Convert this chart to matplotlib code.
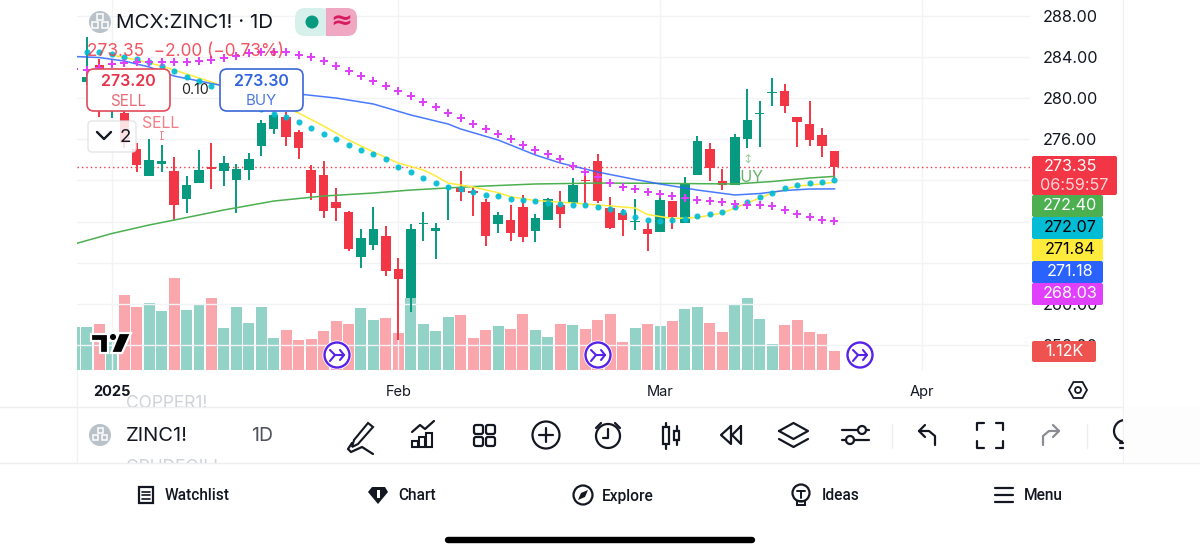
import matplotlib
matplotlib.use("Agg")
import matplotlib.pyplot as plt
from matplotlib.patches import Circle, FancyBboxPatch, Polygon, Rectangle

plt.rcParams['font.family'] = ['Inter', 'DejaVu Sans']

# candles, index 0 = first visible full candle in Jan, -4 starts at left edge
candle_idx = list(range(-4, 57))
opens = [281.58, 283.2, 279.4, 278.56, 275.06, 272.46, 273.6, 272.95, 270.2, 271.75, 273.34, 272.89, 272.05, 273.02, 275.35, 277.01,
         278.2, 276.72, 273.02, 272.53, 269.88, 268.9, 264.53, 265.75, 266.6, 263.36, 260.54, 267.8, 267.08, 269.39, 271.3, 270.95,
         269.91, 267.77, 268.15, 269.42, 267.11, 268.13, 269.58, 269.81, 272.02, 273.87, 269.32, 268.84, 267.96, 267.28, 266.99, 270.03,
         267.86, 272.56, 275.09, 271.98, 271.56, 276.06, 278.5, 280.54, 280.67, 278.2, 277.49, 276.42, 274.87]
highs = [285.96, 283.8, 282.0, 279.3, 275.65, 276.0, 275.45, 274.31, 272.44, 274.96, 275.67, 274.41, 273.6, 274.7, 277.88, 278.66,
         278.66, 276.91, 273.51, 273.92, 271.24, 269.0, 267.28, 269.39, 267.57, 264.49, 267.77, 268.9, 267.83, 271.56, 272.89, 271.39,
         270.17, 268.96, 269.58, 270.62, 268.74, 270.27, 270.98, 272.24, 273.02, 274.58, 270.36, 269.25, 270.2, 267.96, 270.59, 270.03,
         272.31, 276.33, 275.62, 273.09, 276.52, 280.93, 279.73, 281.97, 281.36, 278.2, 279.73, 277.08, 274.87]
lows = [281.3, 278.17, 278.08, 275.16, 272.82, 272.46, 272.85, 268.15, 268.81, 271.75, 271.17, 271.46, 268.81, 272.05, 274.38, 276.52,
        275.38, 274.09, 270.1, 268.38, 268.09, 265.14, 263.46, 265.24, 262.71, 256.48, 259.23, 266.11, 264.33, 268.15, 270.03, 268.57,
        265.6, 266.86, 266.11, 266.04, 266.04, 268.13, 267.38, 269.81, 269.71, 269.78, 267.31, 266.63, 267.15, 265.17, 266.99, 267.31,
        267.86, 272.56, 271.95, 271.07, 271.56, 275.16, 275.23, 279.24, 278.59, 275.29, 275.35, 274.28, 272.21]
closes = [282.07, 280.8, 281.29, 275.65, 273.51, 273.99, 273.92, 269.58, 271.56, 273.05, 273.09, 273.67, 273.12, 274.12, 277.62, 278.37,
          276.26, 275.19, 270.81, 269.06, 269.32, 265.33, 266.37, 267.31, 263.22, 262.42, 267.25, 267.89, 267.38, 269.45, 270.88, 270.81,
          266.6, 268.64, 266.86, 266.53, 268.32, 270.17, 268.71, 271.56, 271.95, 270.03, 267.38, 268.15, 268.09, 266.76, 270.1, 268.42,
          271.78, 275.84, 273.21, 271.53, 276.2, 277.88, 278.59, 280.64, 279.24, 277.69, 275.94, 275.38, 273.35]

vol_idx = list(range(-5, 57))
volumes = [2.53, 2.53, 2.71, 1.65, 4.41, 3.71, 3.94, 3.49, 5.41, 3.53, 3.84, 4.24, 2.47, 3.72, 2.76, 3.72, 1.88, 2.35, 1.78, 1.82, 2.31,
           2.88, 2.72, 3.65, 2.94, 3.06, 2.18, 4.24, 2.71, 2.31, 3.12, 3.24, 1.9, 2.35, 2.59, 2.41, 3.29, 2.35, 1.94, 2.71, 2.65, 2.41,
           2.94, 3.29, 1.65, 2.47, 2.71, 2.61, 2.88, 3.59, 3.71, 2.78, 2.25, 3.88, 4.24, 3.02, 1.53, 2.65, 2.94, 2.24, 2.12, 1.12]
vol_up = [1, 1, 0, 1, 0, 0, 1, 1, 0, 1, 1, 0, 1, 1, 1, 1, 1, 0, 0, 0, 0,
          0, 0, 1, 1, 0, 0, 1, 1, 1, 1, 0, 0, 0, 1, 0, 0, 1, 1, 0, 1, 0,
          0, 0, 0, 1, 0, 1, 0, 1, 1, 0, 0, 1, 1, 1, 1, 0, 0, 0, 0, 0]

# indicators
plus_idx = list(range(-5, 57))
plus_vals = [282.84, 282.75, 282.94, 283.33, 283.38, 283.53, 283.55, 283.55, 283.55, 283.55, 283.62, 283.72, 283.89, 284.11, 284.37, 284.47,
             284.47, 284.47, 284.21, 283.98, 283.62, 283.17, 282.68, 282.16, 281.68, 281.19, 280.7, 280.18, 279.65, 279.12, 278.59, 278.08,
             277.54, 277.01, 276.52, 276.03, 275.45, 274.96, 274.58, 274.06, 273.41, 272.82, 272.34, 271.73, 271.39, 271.14, 270.91, 270.65,
             270.49, 270.25, 270.1, 270.0, 269.88, 269.71, 269.64, 269.58, 269.49, 269.13, 268.74, 268.45, 268.15, 268.03]
dot_idx = list(range(-4, 57))
dot_vals = [284.53, 284.53, 284.3, 284.04, 283.82, 283.48, 283.17, 282.68, 282.1, 281.68, 281.19, 280.65, 280.12, 279.54, 279.0, 278.47,
            278.13, 277.72, 277.08, 276.52, 276.01, 275.45, 274.96, 274.55, 274.06, 273.34, 272.78, 272.27, 271.73, 271.39, 271.14, 270.88,
            270.62, 270.46, 270.2, 270.07, 269.97, 269.84, 269.71, 269.58, 269.58, 269.45, 269.22, 268.93, 268.42, 268.15, 268.06, 268.11,
            268.3, 268.54, 268.77, 268.96, 269.42, 269.93, 270.39, 270.81, 271.27, 271.56, 271.73, 271.88, 272.07]
blue_idx = [-5, -3, -1, 1, 3, 5, 7, 10, 13, 16, 19, 22, 25, 26, 29, 32, 34, 37, 40, 42, 45, 48, 50, 52, 54, 56]
blue_vals = [284.06, 283.96, 283.62, 283.04, 282.16, 281.68, 281.19, 280.8, 280.41, 280.02, 279.44, 278.37, 277.49, 277.01, 275.94, 274.48,
             273.7, 272.82, 272.1, 271.66, 271.07, 270.59, 270.73, 271.02, 271.17, 271.18]
green_idx = [-5, -2, 1, 3, 7, 11, 15, 19, 22, 27, 32, 37, 42, 48, 51, 54, 56]
green_vals = [265.82, 266.84, 267.67, 268.15, 269.13, 270.0, 270.49, 270.78, 271.07, 271.41, 271.66, 271.75, 271.72, 271.66, 271.9, 272.24, 272.4]
yellow_idx = [-2, 0, 2, 4, 6, 9, 12, 13, 15, 17, 19, 21, 23, 24, 25, 27, 29, 30, 32, 35, 38, 40, 41, 43, 45, 47, 49, 51, 53, 55, 56]
yellow_vals = [284.21, 283.72, 283.14, 282.36, 281.58, 280.31, 279.05, 278.56, 277.3, 275.94, 274.77, 273.7, 273.02, 272.44, 271.75, 271.37,
               270.81, 270.42, 270.05, 269.81, 269.52, 269.32, 268.69, 268.3, 268.4, 268.84, 269.81, 270.78, 271.46, 271.66, 271.84]

last_price = 273.35
price_ticks = [256, 260, 264, 268, 272, 276, 280, 284, 288]
# 264, 268 and 272 are fully covered by the price tags
price_labels = ['256.00', '260.00', '', '', '', '276.00', '280.00', '284.00', '288.00']
time_ticks = [-2, 21, 42, 63]
time_labels = ['2025', 'Feb', 'Mar', 'Apr']

GREEN = '#089981'
RED = '#f23645'
TEXT = '#131722'
GRID = '#f2f3f5'

fig = plt.figure(figsize=(12, 5.54), dpi=100)
ax = fig.add_axes([77 / 1200, (554 - 371) / 554, (1030 - 77) / 1200, 371 / 554])

# volume sits behind the candles on its own scale
vax = ax.twinx()
vax.set_ylim(-1 / 17, 370 / 17)
vax.yaxis.set_visible(False)
for s in vax.spines.values():
    s.set_visible(False)
vax.set_zorder(ax.get_zorder() - 1)
vax.bar(vol_idx, volumes, width=0.88, color=[GREEN if u else RED for u in vol_up], alpha=0.44, lw=0)

ax.set_xlim((77 - 136.7) / 12.46, (1030 - 136.7) / 12.46)
ax.set_ylim(288 - 355 / 10.28, 288 + 16 / 10.28)
ax.patch.set_alpha(0)
for s in ax.spines.values():
    s.set_visible(False)
ax.yaxis.tick_right()
ax.set_yticks(price_ticks)
ax.set_yticklabels(price_labels)
ax.set_xticks(time_ticks)
ax.set_xticklabels(time_labels)
ax.get_xticklabels()[0].set_fontweight('bold')
ax.tick_params(axis='y', length=0, pad=9.5, labelsize=11.7, labelcolor=TEXT)
ax.tick_params(axis='x', length=0, pad=10, labelsize=10.5, labelcolor=TEXT)
ax.grid(True, color=GRID, lw=1)
ax.set_axisbelow(True)

ax.axhline(last_price, color=RED, lw=1, ls=(0, (1, 2.2)), zorder=2)
ax.text(49, 272.3, 'BUY', color='#64b268', fontsize=11.5, ha='center', va='center', zorder=1.5)
ax.text(49, 274.1, '↕', color='#64b268', fontsize=5.5, ha='center', va='center', zorder=1.5)

for i, o, h, l, c in zip(candle_idx, opens, highs, lows, closes):
    col = GREEN if c >= o else RED
    ax.vlines(i, l, h, color=col, lw=1.4, zorder=3)
    ax.bar(i, abs(c - o), bottom=min(o, c), width=0.76, color=col, lw=0, zorder=3)

ax.plot(green_idx, green_vals, color='#4caf50', lw=1.1, zorder=4)
ax.plot(yellow_idx, yellow_vals, color='#ffeb3b', lw=1.1, zorder=4)
ax.plot(blue_idx, blue_vals, color='#2962ff', lw=1.1, zorder=4, alpha=0.85)
ax.plot(dot_idx, dot_vals, ls='', marker='o', ms=4.4, color='#00bcd4', mew=0, zorder=5, alpha=0.92)
ax.plot(plus_idx, plus_vals, ls='', marker='P', ms=6.4, color='#e040fb', mew=0, zorder=5)

# everything else is app chrome, drawn in screen pixels on top
ui = fig.add_axes([0, 0, 1, 1], zorder=10)
ui.set_xlim(0, 1200)
ui.set_ylim(554, 0)
ui.axis('off')
ui.patch.set_alpha(0)


def box(x0, y0, x1, y1, fc, ec='none', r=3, lw=1.0, z=2, alpha=None):
    p = FancyBboxPatch((x0, y0), x1 - x0, y1 - y0, boxstyle='round,pad=0,rounding_size=%g' % r,
                       fc=fc, ec=ec, lw=lw, zorder=z, alpha=alpha)
    ui.add_patch(p)
    return p


def label(x, y, s, color=TEXT, size=11, ha='center', weight='normal', z=5, alpha=None, family=None):
    return ui.text(x, y, s, color=color, fontsize=size, ha=ha, va='center', fontweight=weight, zorder=z,
                   alpha=alpha, family=family)


def stroke(xs, ys, color='#131722', lw=1.6, z=5):
    ui.plot(xs, ys, color=color, lw=lw, zorder=z, solid_capstyle='round', solid_joinstyle='round')


def ring(x, y, r, color='#131722', lw=1.6, fc='none', z=5):
    ui.add_patch(Circle((x, y), r, fc=fc, ec=color, lw=lw, zorder=z))


def symbol_badge(x, y, r, sq):
    ring(x, y, r, color='none', fc='#b9c2c9', lw=0, z=4)
    for dx, dy in [(0, -sq * 0.9), (-sq * 0.9, sq * 0.55), (sq * 0.9, sq * 0.55)]:
        ui.add_patch(Rectangle((x + dx - sq / 2, y + dy - sq / 2), sq, sq, fc='none', ec='white', lw=1.1, zorder=5))


# legend row
symbol_badge(100, 22, 11, 5.5)
label(116, 23, 'MCX:ZINC1! · 1D', size=14.8, ha='left')
box(295, 8, 330, 36, '#d8f0ec', r=10)
ui.add_patch(Rectangle((325, 8), 7, 28, fc='#d8f0ec', lw=0, zorder=2))
box(326, 8, 357, 36, '#f0a7c2', r=10)
ui.add_patch(Rectangle((326, 8), 8, 28, fc='#f0a7c2', lw=0, zorder=2))
ring(312, 22, 6.5, color='none', fc=GREEN, lw=0)
label(341, 21, '≈', color='#d81b60', size=19, weight='bold', family=['DejaVu Sans'])
label(87, 51, '273.35  −2.00 (−0.73%)', color=RED, size=12.4, ha='left', alpha=0.85)

# order buttons
box(87, 69, 170, 111, 'white', ec='#e04a5c', r=7, lw=1.2)
label(128, 82, '273.20', color='#e8324a', size=11.5, weight='semibold')
label(128, 101, 'SELL', color='#e96a78', size=11)
box(220, 69, 303, 111, 'white', ec='#3a66d8', r=7, lw=1.2)
label(261, 82, '273.30', color='#3165e0', size=11.5, weight='semibold')
label(261, 101, 'BUY', color='#4c78dc', size=10.8)
label(195, 90, '0.10', size=10.2, color='#222222')
box(88, 121, 136, 152, 'white', ec='#dfe1e5', r=4, lw=1, alpha=0.85)
stroke([97, 104, 111], [132, 139, 132], lw=1.7)
label(125, 137, '2', size=13.5)
label(161, 124, 'SELL', color='#f47c86', size=11.4)
stroke([161, 161], [131, 139], color='#f47c86', lw=0.7)
stroke([159.5, 162.5], [131, 131], color='#f47c86', lw=0.7)
stroke([159.5, 162.5], [139, 139], color='#f47c86', lw=0.7)

# tradingview logo
for pts in [[(91, 334), (108, 334), (108, 353), (100, 353), (100, 341), (91, 341)],
            [(119, 333), (131, 333), (122, 353), (111, 353)]]:
    ui.add_patch(Polygon(pts, closed=True, fc='black', ec='white', lw=1.6, zorder=4))
ring(113, 337, 3.6, color='white', fc='black', lw=0.8, z=4)

# merge markers on the volume pane
for mx in [337, 598, 860]:
    ring(mx, 355, 14.5, color='none', fc='white', lw=0, z=3)
    ring(mx, 355, 12.5, color='#5722e8', lw=1.7, fc='white', z=4)
    stroke([mx - 7, mx - 2, mx + 7], [350, 355, 355], color='#5722e8', lw=1.5)
    stroke([mx - 7, mx - 2], [361, 355], color='#5722e8', lw=1.5)
    stroke([mx + 3, mx + 7, mx + 3], [350, 355, 360], color='#5722e8', lw=1.5)

# price scale tags
tags = [(195, 217, '#4caf50', '272.40', 'white'), (217, 239, '#00bcd4', '272.07', 'black'),
        (239, 261, '#ffeb3b', '271.84', 'black'), (261, 283, '#2962ff', '271.18', 'white'),
        (283, 305, '#e040fb', '268.03', 'white')]
for y0, y1, fc, s, tc in tags:
    box(1032, y0, 1103, y1, fc, r=2, z=2)
    label(1070, (y0 + y1) / 2, s, color=tc, size=11.7)
box(1032, 156, 1117, 195, '#f23645', r=2, z=3)
label(1070, 166.5, '273.35', color='white', size=11.7)
label(1074, 185, '06:59:57', color='#ffd6da', size=11.7)
box(1032, 341, 1096, 362, '#ef5350', r=2, z=3)
label(1064, 352, '1.12K', color='white', size=11.7)

# settings hexagon under the price scale
ui.add_patch(Polygon([(1069, 390), (1073.5, 382), (1082.5, 382), (1087, 390), (1082.5, 398), (1073.5, 398)], closed=True,
                     fc='none', ec='#131722', lw=1.3, zorder=5))
ring(1078, 390, 3, lw=1.3)

# frame lines
stroke([1123, 1123], [0, 463], color='#f0f1f3', lw=1, z=1)
stroke([77, 77], [371, 463], color='#f0f1f3', lw=1, z=1)
stroke([0, 1123], [407, 407], color='#eeeff1', lw=1, z=1)
stroke([0, 1200], [463, 463], color='#eeeff1', lw=1, z=1)

# toolbar
clip_top = Rectangle((0, 395), 1123, 12, transform=ui.transData)
t = label(126, 403, 'COPPER1!', color='#cfd2d6', size=12.5, ha='left')
t.set_clip_on(True)
t.set_clip_path(clip_top)
clip_bot = Rectangle((0, 456), 1123, 7, transform=ui.transData)
t = label(126, 468, 'CRUDEOIL!', color='#cfd2d6', size=12.5, ha='left')
t.set_clip_on(True)
t.set_clip_path(clip_bot)
symbol_badge(100, 435, 11, 5)
label(126, 436, 'ZINC1!', size=14.5, ha='left')
label(251, 436, '1D', size=14, ha='left', color='#50535e')

# pen
ui.add_patch(Polygon([(368, 423), (373, 427), (358, 444), (352, 447), (354, 440)], closed=True, fc='none', ec='#131722', lw=1.5, zorder=5))
stroke([352, 348, 351, 362, 373], [443, 449, 452, 447, 454])
# bars + trend
for bx, by in [(412, 441), (419, 437), (426, 433)]:
    ui.add_patch(Rectangle((bx, by), 6, 447 - by, fc='none', ec='#131722', lw=1.5, zorder=5))
stroke([412, 420, 425, 434], [432, 425, 429, 421])
# templates grid
for gx in [474, 486]:
    for gy in [425, 437]:
        box(gx, gy, gx + 9, gy + 9, 'none', ec='#131722', r=2, lw=1.6, z=5)
# add
ring(546, 435, 13.5)
stroke([539, 553], [435, 435])
stroke([546, 546], [428, 442])
# alarm
ring(608, 436, 12)
stroke([608, 608, 603], [429, 438, 438])
stroke([596, 601], [428, 423])
stroke([620, 615], [428, 423])
# candles
ui.add_patch(Rectangle((663, 427), 6, 17, fc='none', ec='#131722', lw=1.6, zorder=5))
stroke([666, 666], [423, 427])
stroke([666, 666], [444, 449])
ui.add_patch(Rectangle((674, 431), 5, 9, fc='none', ec='#131722', lw=1.6, zorder=5))
stroke([676.5, 676.5], [426, 431])
stroke([676.5, 676.5], [440, 445])
# replay
stroke([731, 721, 731, 731], [426, 435, 444, 426])
stroke([741, 732, 741, 741], [426, 435, 444, 426])
# layers
stroke([779, 793.5, 808, 793.5, 779], [431, 423, 431, 439, 431])
stroke([779, 793.5, 808], [439, 447, 439])
# settings sliders
stroke([842, 858], [430, 430])
stroke([866, 869], [430, 430])
ring(862, 430, 4)
stroke([842, 846], [440, 440])
stroke([854, 869], [440, 440])
ring(850, 440, 4)
stroke([892, 892], [424, 448], color='#eceef0', lw=1)
# undo / redo
stroke([925, 919, 925], [425, 431, 437])
stroke([919, 929, 935, 935], [431, 431, 436, 445])
stroke([1053, 1059, 1053], [425, 431, 437], color='#8a8d93')
stroke([1059, 1049, 1043, 1043], [431, 431, 436, 445], color='#8a8d93')
# fullscreen brackets
stroke([977, 977, 984], [430, 423, 423])
stroke([996, 1003, 1003], [423, 423, 430])
stroke([1003, 1003, 996], [441, 448, 448])
stroke([984, 977, 977], [448, 448, 441])
stroke([1087, 1087], [424, 448], color='#eceef0', lw=1)
# bulb runs off the panel
bulb = Rectangle((1105, 415), 18, 40, transform=ui.transData)
b = Circle((1125, 431), 11, fc='none', ec='#131722', lw=1.6, zorder=5)
ui.add_patch(b)
b.set_clip_path(bulb)
stroke([1120, 1123], [443, 443])
stroke([1120, 1123], [448, 448])
ui.add_patch(Rectangle((1124, 407), 76, 56, fc='#fdfdfd', lw=0, zorder=6))

# bottom nav
nav_font = ['Roboto', 'DejaVu Sans']
nav = [(165, 'Watchlist'), (398, 'Chart'), (602, 'Explore'), (822, 'Ideas'), (1024, 'Menu')]
for nx, s in nav:
    label(nx, 496, s, size=11.2, ha='left', weight='medium', family=nav_font)
ui.add_patch(Rectangle((139, 487), 14, 16, fc='none', ec='#131722', lw=1.6, zorder=5))
for ly in [491.5, 495, 498.5]:
    stroke([142, 150], [ly, ly], lw=1.2)
ui.add_patch(Polygon([(368, 492), (372, 487), (385, 487), (388, 492), (378, 504)], closed=True, fc='#131722', lw=0, zorder=5))
ui.add_patch(Rectangle((376.5, 490), 3, 8, fc='white', lw=0, zorder=6))
ring(583, 495, 9.5)
ui.add_patch(Polygon([(588, 490), (585, 497), (578, 500), (581, 493)], closed=True, fc='#131722', lw=0, zorder=5))
ring(801, 493, 8.5)
stroke([797, 805], [491, 491], lw=1.4)
stroke([801, 801], [491, 498], lw=1.4)
ui.add_patch(Rectangle((797, 501), 8, 4, fc='none', ec='#131722', lw=1.4, zorder=5))
for ly in [488, 495, 502]:
    stroke([995, 1013], [ly, ly], lw=1.6)

# home indicator
ui.plot([448, 752], [540, 540], color='black', lw=4.6, solid_capstyle='round', zorder=5)

fig.savefig('out.png', dpi=100, facecolor='white')
